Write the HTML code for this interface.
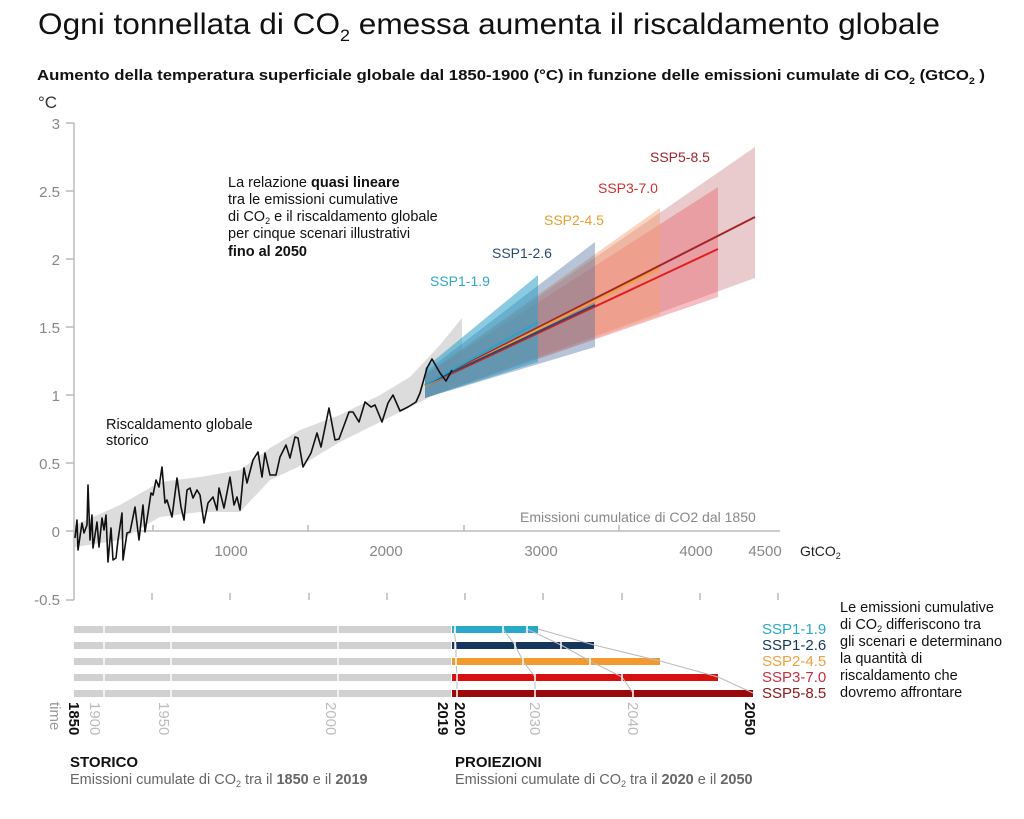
<!DOCTYPE html>
<html><head><meta charset="utf-8"><style>
html,body{margin:0;padding:0;background:#fff;}
svg{display:block;font-family:"Liberation Sans",sans-serif;}
</style></head><body>
<svg width="1024" height="819" viewBox="0 0 1024 819" xmlns="http://www.w3.org/2000/svg">
<rect width="1024" height="819" fill="#fff"/>
<text x="38" y="34" font-size="30" fill="#111" textLength="902" lengthAdjust="spacingAndGlyphs">Ogni tonnellata di CO<tspan font-size="17" dy="7">2</tspan><tspan dy="-7"> emessa aumenta il riscaldamento globale</tspan></text>
<text x="37" y="80" font-size="14.5" font-weight="bold" fill="#111" textLength="948" lengthAdjust="spacingAndGlyphs">Aumento della temperatura superficiale globale dal 1850-1900 (°C) in funzione delle emissioni cumulate di CO<tspan font-size="9" dy="4">2</tspan><tspan dy="-4"> (GtCO</tspan><tspan font-size="9" dy="4">2</tspan><tspan dy="-4"> )</tspan></text>
<text x="38" y="108" font-size="17" fill="#333">°C</text>
<g fill="#888" font-size="15" text-anchor="end">
<text x="60" y="129">3</text><text x="60" y="197">2.5</text><text x="60" y="265">2</text><text x="60" y="333">1.5</text><text x="60" y="401">1</text><text x="60" y="469">0.5</text><text x="60" y="537">0</text><text x="60" y="605">-0.5</text>
</g>
<g stroke="#bbb" stroke-width="1.5">
<line x1="74" y1="123" x2="74" y2="600"/>
<line x1="66" y1="123" x2="74" y2="123"/><line x1="66" y1="191" x2="74" y2="191"/><line x1="66" y1="259" x2="74" y2="259"/><line x1="66" y1="327" x2="74" y2="327"/><line x1="66" y1="395" x2="74" y2="395"/><line x1="66" y1="463" x2="74" y2="463"/><line x1="66" y1="600" x2="74" y2="600"/>
<line x1="66" y1="531" x2="780" y2="531"/>
<line x1="153" y1="531" x2="153" y2="525"/><line x1="308" y1="531" x2="308" y2="525"/><line x1="464" y1="531" x2="464" y2="525"/><line x1="619" y1="531" x2="619" y2="525"/>
<line x1="152" y1="600" x2="152" y2="593"/><line x1="230" y1="600" x2="230" y2="593"/><line x1="309" y1="600" x2="309" y2="593"/><line x1="387" y1="600" x2="387" y2="593"/><line x1="465" y1="600" x2="465" y2="593"/><line x1="543" y1="600" x2="543" y2="593"/><line x1="622" y1="600" x2="622" y2="593"/><line x1="700" y1="600" x2="700" y2="593"/><line x1="778" y1="600" x2="778" y2="593"/>
</g>
<g fill="#888" font-size="15" text-anchor="middle">
<text x="231" y="556">1000</text><text x="386" y="556">2000</text><text x="541" y="556">3000</text><text x="696" y="556">4000</text><text x="765" y="556">4500</text>
</g>
<text x="800" y="556" font-size="14" fill="#222">GtCO<tspan font-size="9" dy="3">2</tspan></text>
<text x="520" y="522" font-size="14" fill="#888">Emissioni cumulatice di CO2 dal 1850</text>
<polygon fill="#dcdcdc" points="75,525 120,505 160,482 200,477 240,470 270,448 300,430 340,415 380,395 410,377 440,345 462,318 462,372 440,392 410,407 380,422 340,442 300,466 270,480 240,512 200,512 160,517 120,540 75,547"/>
<polygon fill="#d8a0a4" fill-opacity="0.55" points="425,398 425,375 755,147 755,278"/>
<polygon fill="#e85a66" fill-opacity="0.4" points="425,398 425,375 718,187 718,297"/>
<polygon fill="#f5a070" fill-opacity="0.45" points="425,398 425,375 660,208 660,315"/>
<polygon fill="#4a6a98" fill-opacity="0.4" points="425,398 425,372 595,242 595,347"/>
<polygon fill="#2aa0c8" fill-opacity="0.55" points="425,398 425,368 538,275 538,362"/>
<g fill="none" stroke-width="2">
<line x1="425" y1="385" x2="755" y2="217" stroke="#a0262a"/>
<line x1="425" y1="386" x2="718" y2="249" stroke="#e02020"/>
<line x1="425" y1="386" x2="660" y2="268" stroke="#f0a040"/>
<line x1="425" y1="385" x2="595" y2="305" stroke="#2a4a70"/>
<line x1="425" y1="385" x2="538" y2="322" stroke="#30a0c8"/>
</g>
<polyline fill="none" stroke="#111" stroke-width="1.6" stroke-linejoin="round" points="75,538 77,520 78,550 82,523 84,533 87,525 88,485 90,540 92,515 93,548 97,522 99,547 102,518 104,530 106,515 108,562 111,528 113,560 116,558 118,540 122,513 123,560 127,533 130,532 135,507 139,540 143,505 145,532 148,513 151,493 153,495 156,480 159,487 162,467 165,503 167,500 172,517 177,478 181,507 184,520 187,490 190,488 193,498 197,490 200,495 204,523 208,503 213,497 217,510 219,488 224,508 230,477 234,505 237,497 240,510 244,468 247,483 253,460 258,452 262,477 265,453 270,475 276,475 280,457 286,445 290,458 295,437 298,438 303,467 311,453 317,433 321,447 329,408 335,440 339,439 349,412 353,412 359,422 365,402 371,407 375,405 382,422 388,403 393,395 400,411 408,407 416,402 420,393 427,368 432,359 440,373 446,381 452,370"/>
<g font-size="14">
<text x="650" y="162" fill="#a0262a">SSP5-8.5</text>
<text x="598" y="193" fill="#d03030">SSP3-7.0</text>
<text x="544" y="225" fill="#e8a030">SSP2-4.5</text>
<text x="492" y="258" fill="#2a4a70">SSP1-2.6</text>
<text x="430" y="286" fill="#30a8c8">SSP1-1.9</text>
</g>
<g font-size="14.5" fill="#111">
<text x="228" y="187">La relazione <tspan font-weight="bold">quasi lineare</tspan></text>
<text x="228" y="204">tra le emissioni cumulative</text>
<text x="228" y="221">di CO<tspan font-size="9" dy="3">2</tspan><tspan dy="-3"> e il riscaldamento globale</tspan></text>
<text x="228" y="238">per cinque scenari illustrativi</text>
<text x="228" y="256" font-weight="bold">fino al 2050</text>
<text x="106" y="429">Riscaldamento globale</text>
<text x="106" y="445">storico</text>
</g>
<g fill="#d0d0d0">
<rect x="74" y="626" width="377" height="7"/><rect x="74" y="642" width="377" height="7"/><rect x="74" y="658" width="377" height="7"/><rect x="74" y="674" width="377" height="7"/><rect x="74" y="690" width="377" height="7"/>
</g>
<g stroke="#fff" stroke-width="1.5"><line x1="104" y1="620" x2="104" y2="700"/><line x1="171" y1="620" x2="171" y2="700"/><line x1="338" y1="620" x2="338" y2="700"/></g>
<rect x="452" y="626" width="86" height="7" fill="#2aa8cc"/>
<rect x="452" y="642" width="142" height="7" fill="#17365e"/>
<rect x="452" y="658" width="208" height="7" fill="#f29a30"/>
<rect x="452" y="674" width="266" height="7" fill="#d81010"/>
<rect x="452" y="690" width="301" height="7" fill="#9a0a0a"/>
<g fill="none" stroke="#bbb" stroke-width="1">
<polyline points="454,629 456,645 456,661 457,677 457,693"/>
<polyline points="503,629 515,645 523,661 535,677 535,693"/>
<polyline points="527,629 561,645 590,661 622,677 633,693"/>
<polyline points="538,629 594,645 660,661 718,677 753,693"/>
</g>
<g stroke="#fff" stroke-width="1.5">
<line x1="455" y1="625" x2="455" y2="634"/><line x1="455" y1="641" x2="455" y2="650"/><line x1="456" y1="657" x2="456" y2="666"/><line x1="457" y1="673" x2="457" y2="682"/><line x1="457" y1="689" x2="457" y2="698"/>
<line x1="503" y1="625" x2="503" y2="634"/><line x1="515" y1="641" x2="515" y2="650"/><line x1="523" y1="657" x2="523" y2="666"/><line x1="535" y1="673" x2="535" y2="682"/><line x1="535" y1="689" x2="535" y2="698"/>
<line x1="527" y1="625" x2="527" y2="634"/><line x1="561" y1="641" x2="561" y2="650"/><line x1="590" y1="657" x2="590" y2="666"/><line x1="622" y1="673" x2="622" y2="682"/><line x1="633" y1="689" x2="633" y2="698"/>
</g>
<g font-size="15">
<text x="762" y="634" fill="#2aa8cc">SSP1-1.9</text>
<text x="762" y="650" fill="#17365e">SSP1-2.6</text>
<text x="762" y="666" fill="#f0a040">SSP2-4.5</text>
<text x="762" y="682" fill="#c83040">SSP3-7.0</text>
<text x="762" y="698" fill="#8a1a20">SSP5-8.5</text>
</g>
<g font-size="14.5" fill="#111">
<text x="840" y="612">Le emissioni cumulative</text>
<text x="840" y="629">di CO<tspan font-size="9" dy="3">2</tspan><tspan dy="-3"> differiscono tra</tspan></text>
<text x="840" y="646">gli scenari e determinano</text>
<text x="840" y="663">la quantità di</text>
<text x="840" y="680">riscaldamento che</text>
<text x="840" y="697"> dovremo affrontare</text>
</g>
<g font-size="15">
<text transform="translate(50,702) rotate(90)" fill="#999">time</text>
<text transform="translate(69,702) rotate(90)" fill="#111" font-weight="bold">1850</text>
<text transform="translate(90,702) rotate(90)" fill="#bbb">1900</text>
<text transform="translate(159,702) rotate(90)" fill="#bbb">1950</text>
<text transform="translate(326,702) rotate(90)" fill="#bbb">2000</text>
<text transform="translate(438,702) rotate(90)" fill="#111" font-weight="bold">2019</text>
<text transform="translate(455,702) rotate(90)" fill="#111" font-weight="bold">2020</text>
<text transform="translate(530,702) rotate(90)" fill="#bbb">2030</text>
<text transform="translate(628,702) rotate(90)" fill="#bbb">2040</text>
<text transform="translate(745,702) rotate(90)" fill="#111" font-weight="bold">2050</text>
</g>
<text x="70" y="767" font-size="15" font-weight="bold" fill="#111">STORICO</text>
<text x="70" y="784" font-size="14.5" fill="#666">Emissioni cumulate di CO<tspan font-size="9" dy="3">2</tspan><tspan dy="-3"> tra il </tspan><tspan font-weight="bold">1850</tspan> e il <tspan font-weight="bold">2019</tspan></text>
<text x="455" y="767" font-size="15" font-weight="bold" fill="#111">PROIEZIONI</text>
<text x="455" y="784" font-size="14.5" fill="#666">Emissioni cumulate di CO<tspan font-size="9" dy="3">2</tspan><tspan dy="-3"> tra il </tspan><tspan font-weight="bold">2020</tspan> e il <tspan font-weight="bold">2050</tspan></text>
</svg>
</body></html>
